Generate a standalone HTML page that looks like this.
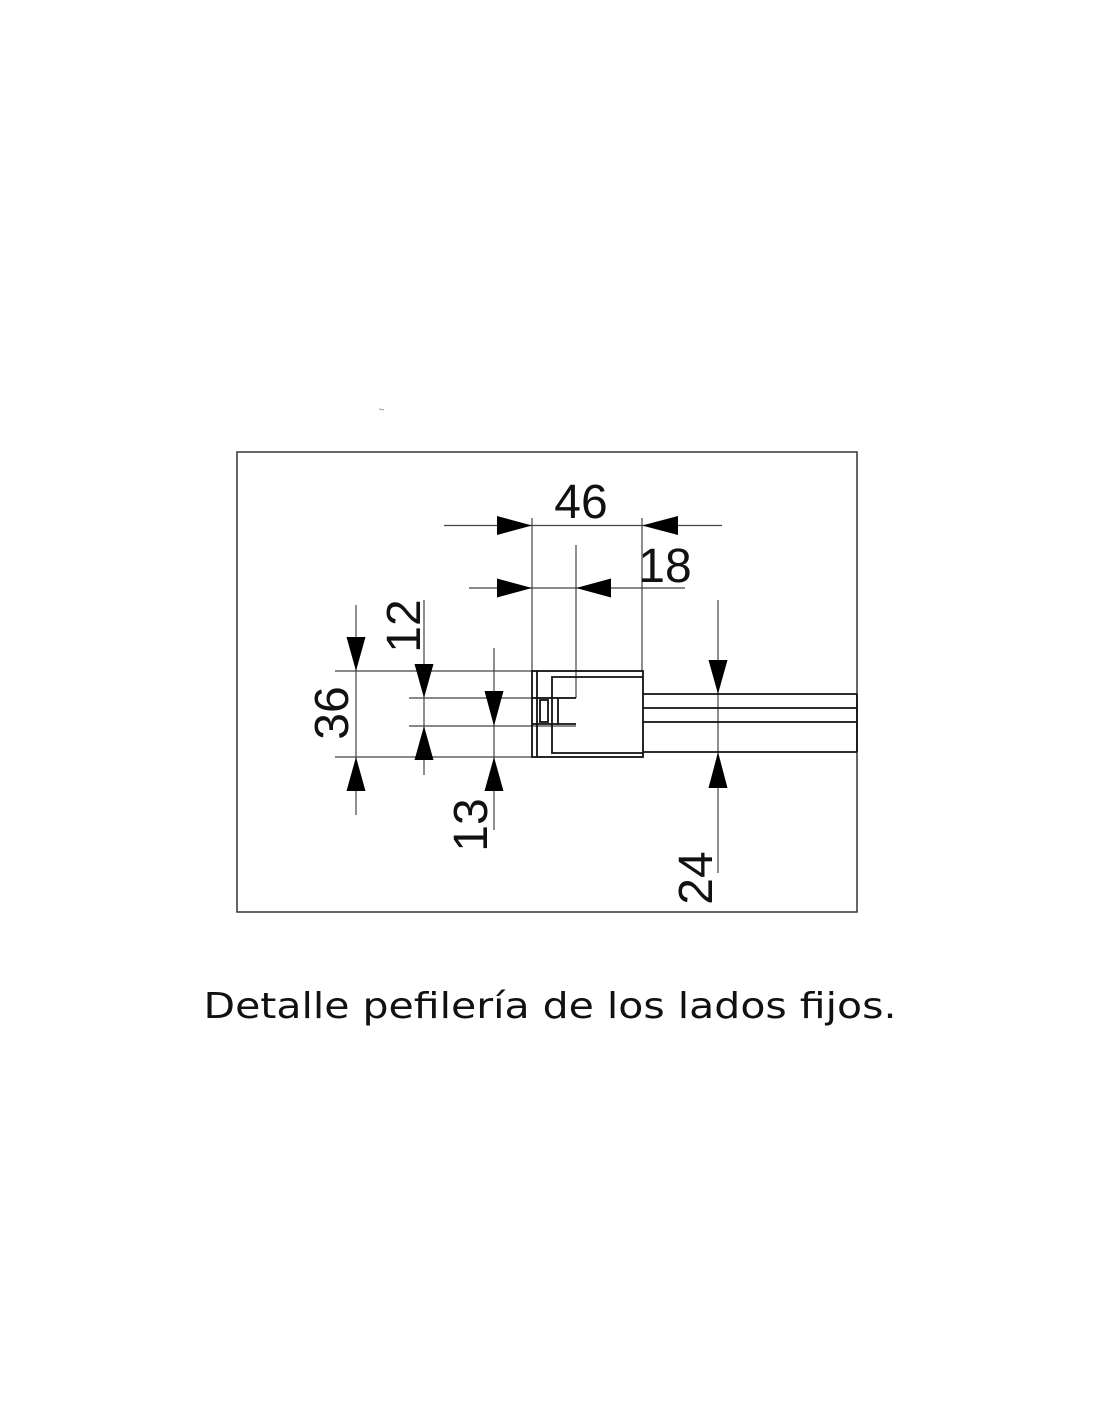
<!DOCTYPE html>
<html><head><meta charset="utf-8"><style>
html,body{margin:0;padding:0;background:#fff;}
svg{display:block;}
</style></head><body>
<svg width="1100" height="1422" viewBox="0 0 1100 1422" xmlns="http://www.w3.org/2000/svg">
<rect x="0" y="0" width="1100" height="1422" fill="#fff"/>
<line x1="379" y1="409" x2="384" y2="410" stroke="#999" stroke-width="1"/>
<rect x="237" y="452" width="620" height="460" fill="none" stroke="#333" stroke-width="1.5"/>
<g stroke="#444" stroke-width="1.2" fill="none">
<!-- dimension lines -->
<line x1="444" y1="525.5" x2="722" y2="525.5"/>
<line x1="469" y1="588" x2="685" y2="588"/>
<line x1="532" y1="518" x2="532" y2="671"/>
<line x1="642" y1="518" x2="642" y2="671"/>
<line x1="576" y1="545" x2="576" y2="698"/>
<line x1="335" y1="671" x2="532" y2="671"/>
<line x1="335" y1="757" x2="532" y2="757"/>
<line x1="409" y1="698" x2="576" y2="698"/>
<line x1="409" y1="726" x2="576" y2="726"/>
<line x1="356" y1="605" x2="356" y2="815"/>
<line x1="424" y1="600" x2="424" y2="775"/>
<line x1="494" y1="648" x2="494" y2="830"/>
<line x1="718" y1="600" x2="718" y2="873"/>
</g>
<g fill="#000">
<polygon points="497,516 532,525.5 497,535"/>
<polygon points="678,516 642,525.5 678,535"/>
<polygon points="497,578.5 532,588 497,597.5"/>
<polygon points="611,578.5 576,588 611,597.5"/>
<polygon points="346.5,637 356,671 365.5,637"/>
<polygon points="346.5,791 356,757 365.5,791"/>
<polygon points="414.5,664 424,698 433.5,664"/>
<polygon points="414.5,760 424,726 433.5,760"/>
<polygon points="484.5,691 494,726 503.5,691"/>
<polygon points="484.5,791 494,757 503.5,791"/>
<polygon points="708.5,660 718,694 727.5,660"/>
<polygon points="708.5,788 718,752 727.5,788"/>
</g>
<!-- profile -->
<g stroke="#111" stroke-width="1.8" fill="none">
<rect x="532" y="671" width="111" height="86"/>
<path d="M643 677 H552 V753 H643"/>
<line x1="537" y1="671" x2="537" y2="757"/>
<line x1="643" y1="694" x2="857" y2="694"/>
<line x1="643" y1="708" x2="857" y2="708"/>
<line x1="643" y1="722" x2="857" y2="722"/>
<line x1="643" y1="752" x2="857" y2="752"/>
<path d="M576 698 H558 V724 H576"/>
<rect x="540" y="700" width="8" height="22"/>
<line x1="532" y1="698" x2="558" y2="698"/>
<line x1="532" y1="724" x2="558" y2="724"/>
<line x1="857" y1="694" x2="857" y2="752"/>
</g>
<g font-family="'Liberation Sans', Arial, sans-serif" font-size="48" fill="#111" text-anchor="middle">
<text x="581" y="518">46</text>
<text x="665" y="582">18</text>
<text transform="translate(420,626) rotate(-90)">12</text>
<text transform="translate(348,713) rotate(-90)">36</text>
<text transform="translate(487,825) rotate(-90)">13</text>
<text transform="translate(712,878) rotate(-90)">24</text>
</g>
<text x="550" y="1018" font-family="'DejaVu Sans', 'Liberation Sans', sans-serif" font-size="36" fill="#111" text-anchor="middle" textLength="693" lengthAdjust="spacingAndGlyphs">Detalle pefilería de los lados fijos.</text>
</svg>
</body></html>
